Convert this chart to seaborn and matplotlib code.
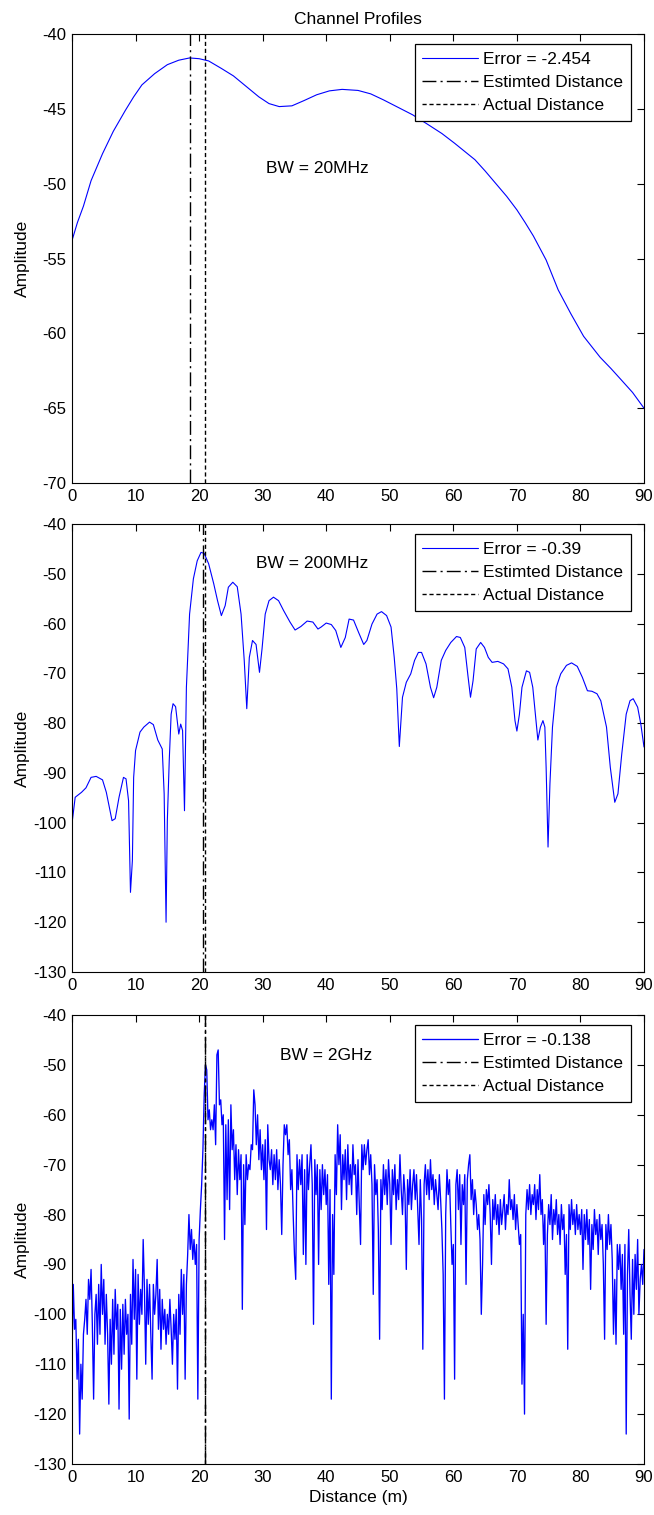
import numpy as np
import pandas as pd
import matplotlib
matplotlib.use("Agg")
import matplotlib.pyplot as plt
import seaborn as sns

# ---------------- data ----------------
# Panel 1 : BW = 20 MHz
p1_dist = [0, 0.85, 1.8, 3.0, 4.8, 6.5, 8.4, 9.7, 11.0, 13.0, 15.0, 16.8, 18.5, 20.0,
           21.5, 23.5, 25.4, 27.4, 29.4, 31.0, 32.6, 34.6, 36.5, 38.5, 40.5, 42.5, 45.0,
           47.0, 49.0, 51.3, 53.6, 56.2, 58.2, 60.2, 61.8, 63.4, 65.0, 66.7, 68.4, 70.0,
           71.3, 72.6, 74.6, 76.5, 78.5, 80.5, 81.8, 83.1, 84.8, 86.4, 88.2, 90.0]
p1_amp = [-53.8, -52.6, -51.5, -49.8, -48.0, -46.5, -45.1, -44.2, -43.4, -42.65, -42.05,
          -41.75, -41.6, -41.65, -41.8, -42.3, -42.8, -43.5, -44.2, -44.65, -44.85, -44.8,
          -44.45, -44.06, -43.8, -43.7, -43.77, -44.0, -44.4, -44.9, -45.4, -46.1, -46.65,
          -47.3, -47.85, -48.4, -49.15, -50.0, -50.85, -51.75, -52.6, -53.5, -55.1, -57.1,
          -58.7, -60.2, -60.9, -61.6, -62.35, -63.1, -63.95, -65.0]

# Panel 2 : BW = 200 MHz
p2_dist = [0, 0.5, 1.5, 2.2, 3.0, 3.8, 4.8, 5.4, 6.3, 6.8, 7.4, 8.1, 8.5, 8.9, 9.2, 9.5,
           9.7, 10.0, 10.7, 11.3, 12.2, 12.8, 13.5, 14.2, 14.5, 14.8, 15.0, 15.3, 15.6,
           15.9, 16.3, 16.8, 17.1, 17.4, 17.7, 18.0, 18.5, 19.1, 19.7, 20.3, 20.8, 21.5,
           22.3, 22.9, 23.5, 24.1, 24.6, 25.3, 26.0, 26.6, 27.1, 27.5, 27.9, 28.4, 28.96,
           29.5, 29.9, 30.4, 31.0, 31.7, 32.5, 33.3, 34.3, 35.1, 36.0, 37.0, 37.9, 38.7,
           39.2, 40.0, 40.8, 41.5, 42.3, 43.0, 43.6, 44.3, 45.1, 45.9, 46.4, 47.2, 48.0,
           48.7, 49.5, 50.2, 50.7, 51.1, 51.5, 52.0, 52.6, 53.3, 53.9, 54.5, 55.0, 55.7,
           56.4, 56.9, 57.4, 58.1, 58.8, 59.6, 60.5, 61.1, 61.8, 62.3, 62.7, 63.1, 63.6,
           64.3, 64.9, 65.5, 66.1, 67.0, 67.9, 68.6, 69.2, 69.7, 70.0, 70.4, 70.8, 71.5,
           72.0, 72.5, 73.0, 73.3, 73.7, 74.1, 74.4, 74.6, 74.9, 75.2, 75.6, 76.2, 76.9,
           77.8, 78.6, 79.5, 80.3, 81.1, 81.8, 82.6, 83.2, 84.1, 84.7, 85.4, 85.9, 86.5,
           87.2, 87.8, 88.3, 89.0, 89.5, 90.0]
p2_amp = [-100.2, -94.9, -93.9, -93.0, -90.9, -90.7, -91.4, -93.9, -99.6, -99.2, -94.9,
          -90.9, -91.2, -95.6, -114.0, -107.6, -90.9, -85.5, -81.8, -80.8, -79.8, -80.3,
          -83.4, -85.2, -94.2, -120.0, -99.6, -87.5, -78.2, -76.1, -76.7, -82.2, -80.2,
          -81.5, -97.6, -72.8, -58.1, -51.0, -47.4, -45.7, -45.9, -48.0, -52.0, -55.4,
          -58.4, -56.4, -52.7, -51.7, -52.6, -58.1, -67.4, -77.1, -66.8, -63.4, -64.2,
          -69.8, -65.1, -58.1, -55.4, -54.7, -55.4, -57.4, -59.7, -61.3, -60.6, -59.5,
          -59.7, -61.1, -60.7, -59.9, -60.2, -61.4, -64.8, -62.8, -59.1, -59.3, -61.8,
          -64.2, -63.4, -60.1, -58.1, -57.6, -58.4, -60.7, -66.8, -73.1, -84.7, -74.8,
          -71.8, -70.1, -67.4, -65.8, -65.8, -68.1, -72.8, -74.9, -72.8, -67.4, -65.4,
          -63.8, -62.6, -62.8, -64.8, -70.5, -74.8, -71.5, -65.1, -63.8, -64.8, -66.8,
          -67.8, -67.6, -68.1, -69.1, -72.8, -79.5, -81.6, -78.2, -72.8, -69.5, -69.8,
          -72.8, -79.5, -83.4, -80.8, -79.5, -80.8, -88.9, -104.9, -92.2, -80.8, -72.8,
          -70.1, -68.4, -67.9, -68.6, -70.8, -73.5, -73.6, -74.1, -75.5, -80.8, -88.9,
          -95.9, -94.2, -86.2, -78.2, -75.5, -75.1, -76.8, -80.2, -84.8]

# Panel 3 : BW = 2 GHz (samples every 0.2 m)
p3_dist = np.round(np.arange(0, 90.01, 0.2), 1)
p3_amp = [
    -108, -94, -103, -101, -113, -105, -124, -110, -117, -104,
    -101, -97, -104, -93, -97, -91, -102, -117, -100, -96,
    -106, -94, -104, -90, -100, -93, -106, -96, -104, -118,
    -101, -110, -97, -108, -95, -103, -98, -119, -99, -111,
    -98, -108, -97, -104, -100, -121, -96, -106, -89, -101,
    -91, -113, -92, -102, -95, -100, -85, -95, -110, -93,
    -102, -94, -104, -113, -94, -100, -96, -89, -103, -95,
    -107, -97, -103, -99, -106, -100, -104, -97, -103, -110,
    -100, -105, -99, -115, -96, -104, -91, -100, -92, -113,
    -94, -88, -80, -87, -83, -89, -85, -90, -86, -117,
    -85, -79, -74, -67, -56, -50, -51, -61, -59, -63,
    -61, -63, -58, -66, -48, -47, -58, -57, -62, -60,
    -85, -62, -77, -61, -79, -58, -67, -63, -73, -66,
    -76, -67, -73, -68, -99, -70, -82, -68, -73, -70,
    -71, -66, -67, -55, -58, -66, -60, -69, -63, -71,
    -66, -73, -65, -83, -62, -69, -71, -67, -74, -68,
    -73, -67, -75, -69, -74, -84, -70, -62, -64, -62,
    -68, -65, -75, -71, -80, -88, -93, -68, -75, -69,
    -74, -68, -88, -71, -90, -68, -75, -70, -66, -74,
    -102, -69, -76, -70, -90, -71, -79, -70, -76, -71,
    -78, -72, -94, -75, -117, -80, -92, -68, -76, -62,
    -70, -64, -79, -68, -73, -67, -77, -66, -74, -70,
    -76, -66, -72, -70, -80, -69, -78, -86, -66, -71,
    -66, -70, -67, -65, -72, -68, -74, -96, -70, -76,
    -73, -83, -105, -73, -79, -70, -76, -71, -78, -69,
    -74, -86, -71, -76, -70, -79, -73, -77, -68, -75,
    -80, -72, -76, -91, -73, -78, -71, -79, -74, -71,
    -77, -72, -79, -86, -73, -81, -107, -74, -70, -76,
    -71, -77, -69, -75, -72, -78, -73, -76, -79, -72,
    -77, -83, -92, -117, -80, -71, -76, -73, -82, -90,
    -86, -113, -74, -71, -79, -72, -86, -74, -78, -72,
    -94, -73, -70, -68, -77, -73, -80, -75, -78, -83,
    -80, -85, -100, -90, -76, -82, -75, -78, -74, -80,
    -90, -77, -81, -76, -82, -78, -84, -77, -82, -79,
    -76, -83, -78, -80, -73, -79, -77, -81, -76, -83,
    -78, -82, -86, -84, -114, -100, -120, -80, -75, -79,
    -74, -80, -76, -78, -74, -81, -75, -79, -72, -80,
    -77, -86, -80, -102, -84, -78, -82, -76, -85, -79,
    -82, -77, -84, -80, -86, -78, -83, -80, -92, -84,
    -107, -78, -83, -77, -82, -79, -84, -78, -83, -80,
    -84, -79, -91, -80, -85, -79, -86, -81, -95, -82,
    -87, -79, -84, -81, -88, -80, -85, -82, -90, -105,
    -82, -87, -80, -86, -82, -89, -104, -93, -106, -86,
    -91, -86, -95, -88, -104, -86, -124, -92, -83, -96,
    -105, -89, -100, -88, -95, -85, -100, -93, -90, -94,
    -87,
]

actual_distance = [21.0, 21.0, 21.0]
errors = [-2.454, -0.39, -0.138]
error_labels = ["Error = -2.454", "Error = -0.39", "Error = -0.138"]
bw_labels = ["BW = 20MHz", "BW = 200MHz", "BW = 2GHz"]
bw_pos = [(30.5, -49.0), (29.0, -47.9), (32.7, -48.2)]
y_limits = [(-70, -40), (-130, -40), (-130, -40)]
y_steps = [5, 10, 10]
x_ticks = [0, 10, 20, 30, 40, 50, 60, 70, 80, 90]

# ---------------- style ----------------
sns.set_theme(style="white")
plt.rcParams["font.family"] = ["Liberation Sans", "DejaVu Sans"]
plt.rcParams["axes.edgecolor"] = "black"
plt.rcParams["axes.linewidth"] = 0.8
plt.rcParams["axes.unicode_minus"] = False
FS_TICK = 12
FS_TXT = 12.5

W, H = 654, 1515
fig = plt.figure(figsize=(W / 100, H / 100), dpi=100)
left_px, right_px = 72, 644
tops = [34, 524, 1015]
bottoms = [483, 972, 1464]
line_widths = [0.8, 0.8, 0.95]

datasets = [(p1_dist, p1_amp), (p2_dist, p2_amp), (list(p3_dist), p3_amp)]
axes = []
for i in range(3):
    ax = fig.add_axes([left_px / W, 1 - bottoms[i] / H,
                       (right_px - left_px) / W, (bottoms[i] - tops[i]) / H])
    axes.append(ax)
    d, a = datasets[i]
    df = pd.DataFrame({"Distance": d, "Amplitude": a})
    sns.lineplot(data=df, x="Distance", y="Amplitude", ax=ax, color="#0000ff",
                 lw=line_widths[i], estimator=None, sort=False, label=error_labels[i])
    est = actual_distance[i] + errors[i]
    ax.axvline(est, color="black", lw=1.0, linestyle=(0, (10, 3, 1.5, 3)),
               label="Estimted Distance")
    ax.axvline(actual_distance[i], color="black", lw=1.0, linestyle=(0, (3, 2)),
               label="Actual Distance")
    ax.set_xlim(0, 90)
    ax.set_ylim(*y_limits[i])
    ax.set_xticks(x_ticks)
    ax.set_yticks(np.arange(y_limits[i][0], y_limits[i][1] + 0.1, y_steps[i]))
    ax.tick_params(direction="in", length=5, width=0.8, top=True, right=True,
                   labelsize=FS_TICK, pad=4, colors="black")
    ax.set_ylabel("Amplitude", fontsize=FS_TXT, color="black")
    ax.yaxis.set_label_coords(-0.0734, 0.5)
    ax.set_xlabel("")
    ax.text(bw_pos[i][0], bw_pos[i][1], bw_labels[i], fontsize=FS_TXT,
            ha="left", va="center", color="black")
    leg = ax.legend(loc="upper right",
                    bbox_to_anchor=((631 - left_px) / (right_px - left_px),
                                    1 - 10 / (bottoms[i] - tops[i])),
                    borderaxespad=0, fontsize=FS_TXT, frameon=True, fancybox=False,
                    framealpha=1, edgecolor="black", handlelength=3.2,
                    handletextpad=0.3, labelspacing=0.45, borderpad=0.45)
    leg.get_frame().set_linewidth(0.9)
    for t in leg.get_texts():
        t.set_color("black")

axes[0].set_title("Channel Profiles", fontsize=FS_TXT, pad=7, color="black")
axes[2].set_xlabel("Distance (m)", fontsize=FS_TXT, color="black")
axes[2].xaxis.set_label_coords(0.5, -0.058)

fig.savefig("out.png", dpi=100, facecolor="white")
